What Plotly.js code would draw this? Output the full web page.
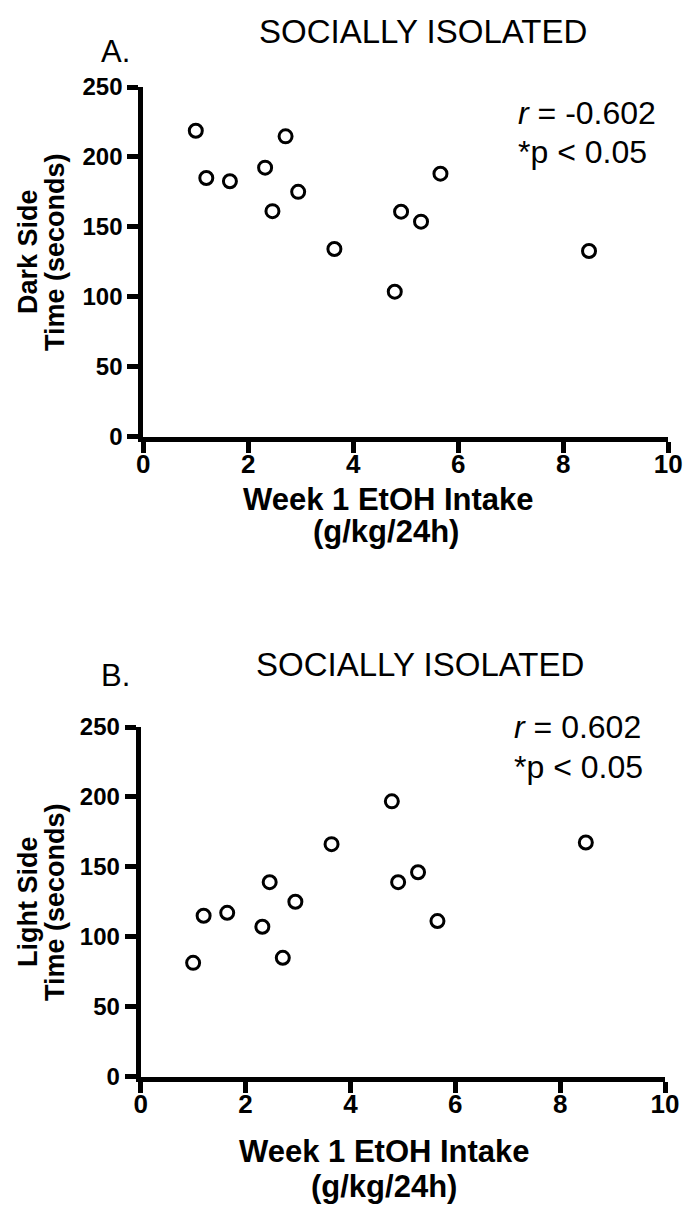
<!DOCTYPE html>
<html>
<head>
<meta charset="utf-8">
<script src="https://cdn.plot.ly/plotly-3.0.1.min.js"></script>
<style>
  html, body { margin: 0; padding: 0; background: #ffffff; }
  #chart { width: 686px; height: 1209px; }
</style>
</head>
<body>
<div id="chart"></div>
<script>
// ---- Data ----
const intakeWeek1 = [1.00, 1.20, 1.65, 2.32, 2.46, 2.71, 2.95, 3.64, 4.79, 4.91, 5.29, 5.66, 8.49];
const darkSideTime = [218.7, 184.9, 182.6, 192.3, 161.2, 214.7, 175.0, 134.1, 103.6, 160.8, 153.7, 188.0, 132.7];
const lightSideTime = [81.3, 115.0, 117.1, 107.1, 139.0, 84.9, 125.0, 166.2, 196.8, 139.0, 146.1, 111.2, 167.4];
const xTickVals = [0, 2, 4, 6, 8, 10];
const yTickVals = [0, 50, 100, 150, 200, 250];
const panelTitle = "SOCIALLY ISOLATED";
const panelLetters = ["A.", "B."];
const statR = ["<i>r</i> = -0.602", "<i>r</i> = 0.602"];
const statP = "*p &lt; 0.05";
const yTitleTop = ["Dark Side", "Light Side"];
const yTitleBottom = "Time (seconds)";
const xTitleLines = ["Week 1 EtOH Intake", "(g/kg/24h)"];

// ---- Layout helpers ----
const W = 686, H = 1209;
const px = v => v / W;
const py = v => 1 - v / H;
const FONT = "Liberation Sans, Arial, Helvetica, sans-serif";

const marker = { symbol: "circle-open", size: 13, color: "#000000", line: { width: 3, color: "#000000" } };

const traces = [
  { type: "scatter", mode: "markers", x: intakeWeek1, y: darkSideTime, xaxis: "x", yaxis: "y", marker: marker, hoverinfo: "x+y" },
  { type: "scatter", mode: "markers", x: intakeWeek1, y: lightSideTime, xaxis: "x2", yaxis: "y2", marker: marker, hoverinfo: "x+y" }
];

function xAxis(domain, anchor) {
  return {
    domain: domain, anchor: anchor, range: [0, 10], tickvals: xTickVals,
    showgrid: false, zeroline: false, showline: true, linecolor: "#000", linewidth: 5,
    ticks: "outside", ticklen: 11, tickwidth: 5, tickcolor: "#000",
    tickfont: { family: FONT, size: 26, color: "#000", weight: "bold" },
    ticklabelstandoff: -11, fixedrange: true
  };
}
function yAxis(domain, anchor) {
  return {
    domain: domain, anchor: anchor, range: [0, 250], tickvals: yTickVals,
    showgrid: false, zeroline: false, showline: true, linecolor: "#000", linewidth: 5,
    ticks: "outside", ticklen: 11, tickwidth: 5, tickcolor: "#000",
    tickfont: { family: FONT, size: 24, color: "#000", weight: "bold" },
    ticklabelstandoff: 0, fixedrange: true
  };
}

function ann(text, x, y, size, opts) {
  return Object.assign({
    xref: "paper", yref: "paper", x: px(x), y: py(y), text: text, showarrow: false,
    xanchor: "center", yanchor: "middle",
    font: { family: FONT, size: size, color: "#000" }
  }, opts || {});
}
const bold = (size) => ({ family: FONT, size: size, color: "#000", weight: "bold" });

const annotations = [
  // Panel A
  ann(panelLetters[0], 116, 52, 31),
  ann(panelTitle, 423, 31, 33),
  ann(statR[0], 516, 113, 32, { xanchor: "left" }),
  ann(statP, 516, 152, 32, { xanchor: "left" }),
  ann(yTitleTop[0], 28, 252, 27, { textangle: -90, font: bold(27) }),
  ann(yTitleBottom, 55, 252, 27, { textangle: -90, font: bold(27) }),
  ann(xTitleLines[0], 388, 499, 31, { font: bold(31) }),
  ann(xTitleLines[1], 386, 532, 31, { font: bold(31) }),
  // Panel B
  ann(panelLetters[1], 116, 675, 31),
  ann(panelTitle, 420, 664, 33),
  ann(statR[1], 512, 727, 32, { xanchor: "left" }),
  ann(statP, 512, 767, 32, { xanchor: "left" }),
  ann(yTitleTop[1], 28, 902, 27, { textangle: -90, font: bold(27) }),
  ann(yTitleBottom, 55, 902, 27, { textangle: -90, font: bold(27) }),
  ann(xTitleLines[0], 384, 1151, 31, { font: bold(31) }),
  ann(xTitleLines[1], 384, 1186, 31, { font: bold(31) })
];

const layout = {
  width: W, height: H,
  margin: { l: 0, r: 0, t: 0, b: 0 },
  paper_bgcolor: "#ffffff", plot_bgcolor: "#ffffff",
  showlegend: false,
  font: { family: FONT, color: "#000" },
  xaxis: xAxis([px(143.3), px(668.3)], "y"),
  yaxis: yAxis([py(436.5), py(87)], "x"),
  xaxis2: xAxis([px(140.7), px(665)], "y2"),
  yaxis2: yAxis([py(1076.5), py(727)], "x2"),
  annotations: annotations
};

Plotly.newPlot("chart", traces, layout, { staticPlot: true, displayModeBar: false });
</script>
</body>
</html>
